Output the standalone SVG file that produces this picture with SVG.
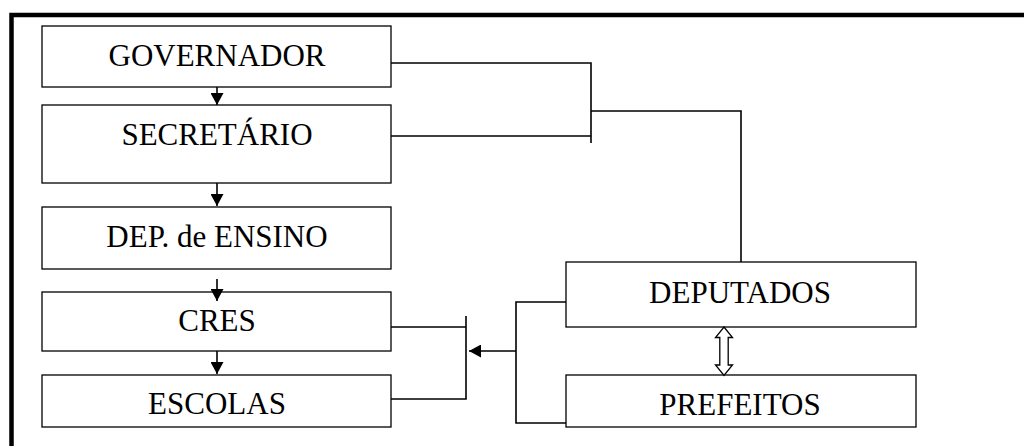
<svg xmlns="http://www.w3.org/2000/svg" width="1024" height="446" viewBox="0 0 1024 446">
<defs>
<marker id="ah" markerWidth="12" markerHeight="13" refX="10" refY="5" orient="auto" markerUnits="userSpaceOnUse" viewBox="0 0 10 10" preserveAspectRatio="none">
<path d="M0,0 L10,5 L0,10 Z" fill="#000"/>
</marker>
<style>
.box{fill:#fff;stroke:#000;stroke-width:1.3}
.lbl{font-family:"Liberation Serif","Times New Roman",serif;font-size:31px;fill:#000;text-anchor:middle}
.ln{fill:none;stroke:#000;stroke-width:1.6}
.frame{fill:none;stroke:#000;stroke-width:4.5}
</style>
</defs>
<rect width="1024" height="446" fill="#fff"/>
<path class="frame" d="M11.5,446 L11.5,15 L1024,15"/>
<g id="governador"><rect class="box" x="42" y="26" width="349" height="61"/><text class="lbl" x="217" y="66">GOVERNADOR</text></g>
<g id="secretario"><rect class="box" x="42" y="105" width="349" height="78"/><text class="lbl" x="217" y="145">SECRETÁRIO</text></g>
<g id="dep-ensino"><rect class="box" x="42" y="207" width="349" height="62"/><text class="lbl" x="217" y="247">DEP. de ENSINO</text></g>
<g id="cres"><rect class="box" x="42" y="292" width="349" height="59"/><text class="lbl" x="217" y="331">CRES</text></g>
<g id="escolas"><rect class="box" x="42" y="375" width="349" height="52"/><text class="lbl" x="217" y="414">ESCOLAS</text></g>
<g id="deputados"><rect class="box" x="566" y="262" width="350" height="65"/><text class="lbl" x="740" y="303">DEPUTADOS</text></g>
<g id="prefeitos"><rect class="box" x="566" y="375" width="350" height="52"/><text class="lbl" x="740" y="415">PREFEITOS</text></g>
<g id="connectors">
<line class="ln" x1="217" y1="87" x2="217" y2="105" marker-end="url(#ah)"/>
<line class="ln" x1="217" y1="183" x2="217" y2="206" marker-end="url(#ah)"/>
<line class="ln" x1="217" y1="279" x2="217" y2="301" marker-end="url(#ah)"/>
<line class="ln" x1="217" y1="351" x2="217" y2="374" marker-end="url(#ah)"/>
<path class="ln" d="M391,63 H591 V143 M391,136 H591 M591,111 H741 V262"/>
<path class="ln" d="M391,327 H466 M466,316 V399 H391"/>
<path class="ln" d="M566,302 H516 V423 H566 M516,351 H469" marker-end="url(#ah)"/>
<path d="M724,327 L732.5,337.5 L728.2,337.5 L728.2,365 L732.5,365 L724,375.5 L715.5,365 L719.8,365 L719.8,337.5 L715.5,337.5 Z" fill="#fff" stroke="#000" stroke-width="1.3"/>
</g>
</svg>
